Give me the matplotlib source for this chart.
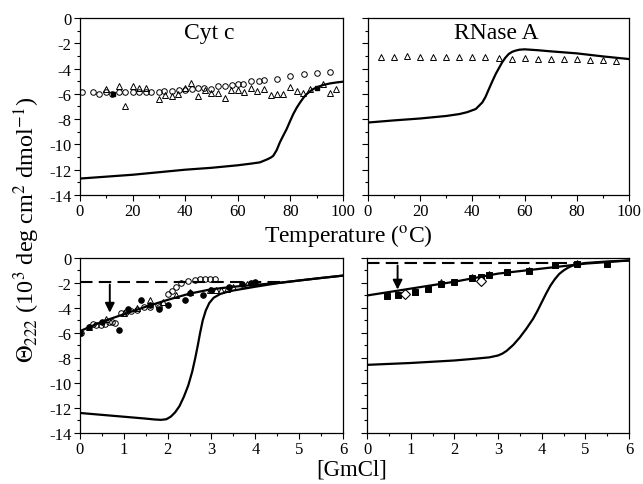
import matplotlib
matplotlib.use("Agg")
import matplotlib.pyplot as plt
from matplotlib.ticker import MultipleLocator

plt.rcParams['font.family'] = ['Liberation Serif', 'DejaVu Serif']
plt.rcParams['mathtext.fontset'] = 'stix'
plt.rcParams['axes.unicode_minus'] = False

# ---------------- Data ----------------
# Cyt c, thermal
cyt_T_circ = [0.8, 4.8, 7.4, 10, 12.2, 15, 17, 20, 22.5, 25, 27, 30, 32, 35, 37.5, 40, 42.5, 45, 47, 50,
              52.3, 55, 57.8, 60, 62, 65, 68, 70, 75, 80, 85, 90, 95]
cyt_v_circ = [-5.86, -5.86, -6.0, -5.88, -6.0, -5.88, -5.88, -5.88, -5.83, -5.83, -5.88, -5.83, -5.8, -5.78,
              -5.67, -5.67, -5.6, -5.5, -5.5, -5.6, -5.4, -5.4, -5.3, -5.25, -5.2, -4.95, -5.0, -4.9,
              -4.83, -4.6, -4.46, -4.33, -4.25]
cyt_T_tri = [10, 14.7, 17.2, 20, 22.3, 25, 30, 32.4, 34.8, 37.4, 40, 42.3, 45, 47.4, 50, 52.3, 55, 57.5,
             60, 62.5, 65, 67.4, 70, 72.6, 74.8, 77.3, 79.8, 82.5, 84.9, 87.6, 92.5, 95, 97.3]
cyt_v_tri = [-5.65, -5.36, -6.94, -5.4, -5.5, -5.5, -6.4, -6.12, -6.2, -6.0, -5.57, -5.15, -6.17, -5.7,
             -5.96, -5.96, -6.33, -5.7, -5.67, -5.83, -5.5, -5.8, -5.65, -6.07, -6.0, -6.0, -5.46,
             -5.75, -5.96, -5.6, -5.25, -5.94, -5.65]
cyt_T_fill = [12.5, 90]
cyt_v_fill = [-6.0, -5.55]
cyt_T_fit = [0, 10, 20, 30, 40, 50, 60, 65, 68.4, 71, 72.5, 73.5, 74.8, 76, 77.3, 78.6, 79.8, 81.1,
             82.4, 83.7, 85, 86.2, 87.5, 88.7, 90.5, 92.5, 95, 97.5, 100]
cyt_v_fit = [-12.7, -12.55, -12.4, -12.2, -12.0, -11.85, -11.65, -11.52, -11.42, -11.2, -11.05, -10.9,
             -10.45, -9.84, -9.3, -8.78, -8.2, -7.6, -7.1, -6.68, -6.3, -6.02, -5.8, -5.62, -5.45, -5.3,
             -5.18, -5.1, -5.04]

# RNase A, thermal
rn_T_tri = [5, 10, 15, 20, 25, 30, 35, 40, 45, 50, 55, 60, 65, 70, 75, 80, 85, 90, 95]
rn_v_tri = [-3.06, -3.06, -3.01, -3.06, -3.12, -3.06, -3.12, -3.06, -3.06, -3.2, -3.25, -3.2, -3.25,
            -3.25, -3.25, -3.25, -3.3, -3.33, -3.38]
rn_T_fit = [0, 10, 20, 30, 35, 38, 41.3, 43.8, 45, 46.3, 47.6, 48.9, 50.2, 51.4, 52.6, 53.9, 55.2, 56.4,
            58, 60, 65, 70, 80, 90, 100]
rn_v_fit = [-8.27, -8.1, -7.95, -7.75, -7.6, -7.45, -7.2, -6.68, -6.25, -5.63, -5.02, -4.44, -3.95,
            -3.51, -3.15, -2.85, -2.68, -2.59, -2.51, -2.48, -2.55, -2.64, -2.8, -3.04, -3.25]

# Cyt c, GmCl
cg_c_circ = [0.02, 0.30, 0.37, 0.49, 0.58, 0.66, 0.74, 0.8, 0.94, 1.04, 1.17, 1.3, 1.47, 1.6, 1.78, 1.8,
             2.01, 2.1, 2.18, 2.31, 2.46, 2.62, 2.73, 2.85, 2.96, 3.07]
cg_v_circ = [-6.0, -5.27, -5.4, -5.33, -5.27, -5.15, -5.1, -5.2, -4.42, -4.34, -4.26, -4.2, -3.9, -3.95,
             -3.8, -3.94, -2.88, -2.61, -2.29, -2.02, -1.81, -1.73, -1.7, -1.7, -1.7, -1.7]
cg_c_fill = [0.0, 0.2, 0.5, 0.9, 1.1, 1.39, 1.6, 1.8, 2.0, 2.4, 2.5, 2.8, 3.0, 3.4, 3.7, 3.9, 4.0]
cg_v_fill = [-6.0, -5.55, -5.1, -5.8, -4.1, -3.35, -3.75, -4.05, -3.75, -3.35, -2.8, -3.0, -2.55, -2.3,
             -2.1, -2.0, -1.95]
cg_c_tri = [0.2, 0.6, 1.0, 1.3, 1.6, 1.9, 2.2, 2.5, 2.97, 3.1, 3.22, 3.35, 3.5, 3.8, 4.0]
cg_v_tri = [-5.5, -4.9, -4.4, -4.0, -3.35, -3.5, -3.0, -2.7, -2.6, -2.6, -2.55, -2.5, -2.3, -2.1, -2.0]
cg_c_lin = [0, 0.5, 1, 1.5, 2, 2.5, 3, 3.5, 4, 4.5, 5, 5.5, 6]
cg_v_lin = [-5.85, -5.1, -4.5, -3.9, -3.35, -2.85, -2.5, -2.3, -2.15, -2.0, -1.8, -1.6, -1.41]
cg_c_fit = [0, 0.5, 1, 1.5, 1.7, 1.85, 1.97, 2.07, 2.17, 2.27, 2.37, 2.47, 2.56, 2.63, 2.69, 2.74, 2.8,
            2.87, 2.95, 3.05, 3.2, 3.35, 3.5, 4.0, 4.5, 5, 5.5, 6]
cg_v_fit = [-12.4, -12.55, -12.7, -12.85, -12.92, -12.95, -12.9, -12.7, -12.35, -11.85, -11.1, -10.2,
            -9.1, -8.0, -6.95, -6.0, -5.0, -4.2, -3.6, -3.18, -2.88, -2.72, -2.6, -2.3, -2.02, -1.8,
            -1.6, -1.41]
cg_native = -1.9
cg_arrow_c = 0.68
cg_arrow_v = -4.6

# RNase A, GmCl
rg_c_fill = [0.45, 0.7, 1.1, 1.4, 1.7, 2.0, 2.4, 2.6, 2.8, 3.2, 3.7, 4.3, 4.8, 5.5]
rg_v_fill = [-3.05, -2.95, -2.75, -2.45, -2.05, -1.9, -1.6, -1.55, -1.35, -1.15, -1.05, -0.6, -0.45, -0.45]
rg_c_tri = [0.7, 1.1, 1.7, 2.4, 2.6, 2.8, 3.2, 3.7, 4.3, 4.8]
rg_v_tri = [-2.9, -2.7, -1.9, -1.55, -1.5, -1.3, -1.1, -0.95, -0.55, -0.4]
rg_c_dia = [0.88, 2.6]
rg_v_dia = [-2.85, -1.85]
rg_c_lin = [0, 1, 2, 3, 4, 5, 6]
rg_v_lin = [-3.0, -2.45, -1.9, -1.25, -0.85, -0.45, -0.2]
rg_c_fit = [0, 1, 2, 2.5, 2.8, 3.0, 3.1, 3.2, 3.35, 3.5, 3.65, 3.8, 3.9, 4.0, 4.1, 4.2, 4.3, 4.4, 4.5,
            4.6, 4.7, 4.8, 5.0, 5.5, 6]
rg_v_fit = [-8.55, -8.4, -8.2, -8.05, -7.95, -7.8, -7.65, -7.42, -6.95, -6.35, -5.65, -4.88, -4.25,
            -3.55, -2.85, -2.21, -1.7, -1.28, -1.0, -0.78, -0.62, -0.52, -0.4, -0.28, -0.2]
rg_native = -0.38
rg_arrow_c = 0.7
rg_arrow_v = -2.75

# ---------------- Figure ----------------
fig = plt.figure(figsize=(6.43, 4.85), dpi=100)
ax_tl = fig.add_axes([0.1244, 0.5959, 0.409, 0.365])
ax_tr = fig.add_axes([0.5723, 0.5959, 0.4060, 0.365])
ax_bl = fig.add_axes([0.1244, 0.1052, 0.409, 0.3608])
ax_br = fig.add_axes([0.5708, 0.1052, 0.4075, 0.3608])

mk = dict(linestyle='none', markersize=4, markeredgewidth=0.7, color='black')

def style(ax, xmax, xmaj, xmin, ylabels=True):
    ax.set_ylim(-14, 0)
    ax.set_xlim(0, xmax)
    ax.xaxis.set_major_locator(MultipleLocator(xmaj))
    ax.xaxis.set_minor_locator(MultipleLocator(xmin))
    ax.yaxis.set_major_locator(MultipleLocator(2))
    ax.yaxis.set_minor_locator(MultipleLocator(1))
    ax.tick_params(which='both', direction='out', labelsize=12, top=False, right=False)
    ax.tick_params(which='major', length=4, width=0.8, pad=2)
    ax.tick_params(which='minor', length=2.5, width=0.8)
    if not ylabels:
        ax.set_yticklabels([])
    for s in ax.spines.values():
        s.set_linewidth(0.9)

# Top-left: Cyt c thermal
ax = ax_tl
ax.plot(cyt_T_circ, cyt_v_circ, marker='o', markerfacecolor='none', **mk)
ax.plot(cyt_T_tri, cyt_v_tri, marker='^', markerfacecolor='none', **mk)
ax.plot(cyt_T_fill, cyt_v_fill, marker='s', markersize=3.5, color='black', linestyle='none')
ax.plot(cyt_T_fit, cyt_v_fit, color='black', lw=1.6)
ax.text(0.49, 0.975, 'Cyt c', transform=ax.transAxes, ha='center', va='top', fontsize=17)
style(ax, 100, 20, 10)

# Top-right: RNase A thermal
ax = ax_tr
ax.plot(rn_T_tri, rn_v_tri, marker='^', markerfacecolor='none', **mk)
ax.plot(rn_T_fit, rn_v_fit, color='black', lw=1.6)
ax.text(0.49, 0.975, 'RNase A', transform=ax.transAxes, ha='center', va='top', fontsize=17)
style(ax, 100, 20, 10, ylabels=False)

# Bottom-left: Cyt c GmCl
ax = ax_bl
ax.plot(cg_c_circ, cg_v_circ, marker='o', markerfacecolor='none', **mk)
ax.plot(cg_c_tri, cg_v_tri, marker='^', markerfacecolor='none', **mk)
ax.plot(cg_c_fill, cg_v_fill, marker='o', markerfacecolor='black', **mk)
ax.plot(cg_c_lin, cg_v_lin, color='black', lw=1.6)
ax.plot(cg_c_fit, cg_v_fit, color='black', lw=1.6)
ax.plot([0, 4.8], [cg_native, cg_native], color='black', lw=1.5, linestyle=(0, (6, 3)))
ax.annotate('', xy=(cg_arrow_c, cg_arrow_v), xytext=(cg_arrow_c, cg_native),
            arrowprops=dict(arrowstyle='-|>', color='black', lw=1.4, mutation_scale=14))
style(ax, 6, 1, 0.5)

# Bottom-right: RNase A GmCl
ax = ax_br
ax.plot(rg_c_fill, rg_v_fill, marker='s', markerfacecolor='black', **mk)
ax.plot(rg_c_tri, rg_v_tri, marker='^', markerfacecolor='none', **mk)
ax.plot(rg_c_dia, rg_v_dia, marker='D', markerfacecolor='white', linestyle='none',
        markersize=5, markeredgewidth=0.8, color='black')
ax.plot(rg_c_lin, rg_v_lin, color='black', lw=1.6)
ax.plot(rg_c_fit, rg_v_fit, color='black', lw=1.6)
ax.plot([0, 4.8], [rg_native, rg_native], color='black', lw=1.5, linestyle=(0, (6, 3)))
ax.annotate('', xy=(rg_arrow_c, rg_arrow_v), xytext=(rg_arrow_c, rg_native),
            arrowprops=dict(arrowstyle='-|>', color='black', lw=1.4, mutation_scale=14))
style(ax, 6, 1, 0.5, ylabels=False)

fig.text(0.542, 0.502, r'Temperature ($^{\mathrm{o}}$C)', ha='center', va='baseline', fontsize=17)
fig.text(0.547, 0.02, '[GmCl]', ha='center', va='baseline', fontsize=16.5)
fig.text(0.042, 0.526, r'$\Theta_{222}$ (10$^{3}$ deg cm$^{2}$ dmol$^{-1}$)', rotation=90,
         ha='center', va='center', fontsize=17.5)

fig.savefig('out.png', dpi=100)
